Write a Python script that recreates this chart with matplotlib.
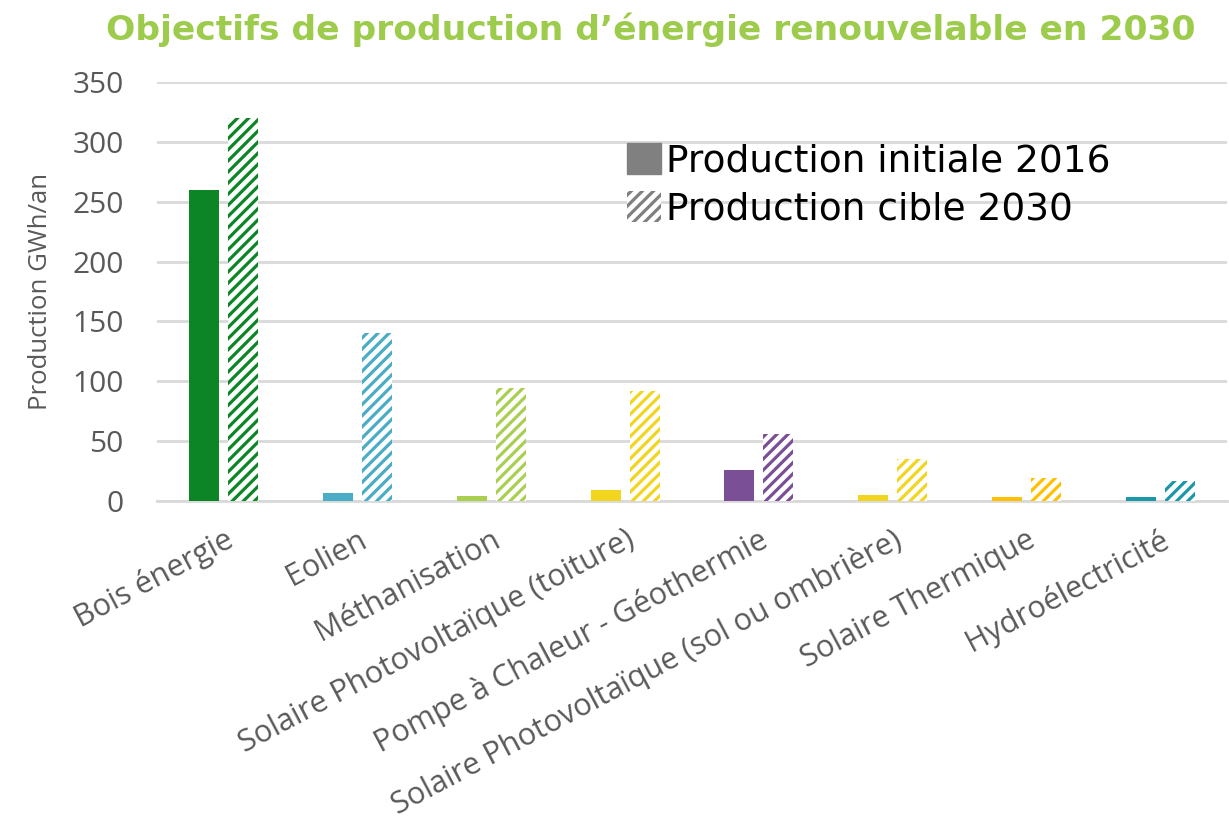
import matplotlib
matplotlib.use("Agg")
import matplotlib.pyplot as plt
import numpy as np
from matplotlib.patches import Patch

categories = ["Bois énergie", "Eolien", "Méthanisation", "Solaire Photovoltaïque (toiture)",
              "Pompe à Chaleur - Géothermie", "Solaire Photovoltaïque (sol ou ombrière)",
              "Solaire Thermique", "Hydroélectricité"]
initial_2016 = [260, 7, 4, 9, 26, 5, 3, 3]
cible_2030 = [320, 140, 94, 92, 56, 35, 19, 17]
colors = ["#0b8526", "#4bacc6", "#a9cf50", "#f2d51e", "#7a4f96", "#f2d51e", "#ffc000", "#1c97a8"]
yticks = [0, 50, 100, 150, 200, 250, 300, 350]

plt.rcParams['hatch.linewidth'] = 2.3

fig = plt.figure(figsize=(12.29, 8.26), dpi=100)
ax = fig.add_axes([157/1229, 1 - 501/826, (1227-157)/1229, (501-82)/826])

x = np.arange(len(categories))
w = 0.224
off = 0.146
ax.bar(x - off, initial_2016, width=w, color=colors, zorder=3)
for xi, v, c in zip(x, cible_2030, colors):
    ax.bar(xi + off, v, width=w, facecolor="white", edgecolor=c, hatch="///",
           linewidth=0, zorder=3)

ax.set_xlim(-0.5, len(categories) - 0.5)
ax.set_ylim(0, 350)
ax.set_yticks(yticks)
ax.yaxis.grid(True, color="#d9d9d9", linewidth=2, zorder=0)
for s in ["top", "right", "left"]:
    ax.spines[s].set_visible(False)
ax.spines["bottom"].set_color("#d9d9d9")
ax.spines["bottom"].set_linewidth(2)
ax.tick_params(axis="both", length=0, labelcolor="#595959")
ax.tick_params(axis="y", labelsize=21.5, pad=24)
ax.tick_params(axis="x", pad=17)
ax.set_xticks(x)
ax.set_xticklabels(categories, rotation=28, ha="right", rotation_mode="anchor",
                   fontsize=22, family="Open Sans")
for lbl in ax.get_yticklabels():
    lbl.set_family("Open Sans")
ax.set_ylabel("Production GWh/an", fontsize=18.5, color="#595959", family="Open Sans", labelpad=14)

handles = [Patch(facecolor="#808080", edgecolor="#808080"),
           Patch(facecolor="white", edgecolor="#808080", hatch="///", linewidth=0)]
ax.legend(handles, ["Production initiale 2016", "Production cible 2030"],
          loc="upper left", bbox_to_anchor=(0.425, 0.89), frameon=False, fontsize=27,
          handlelength=0.9, handleheight=0.9, handletextpad=0.15, labelspacing=0.3,
          labelcolor="#000000", borderaxespad=0)

fig.text(651/1229, 1 - 30/826, "Objectifs de production d’énergie renouvelable en 2030",
         ha="center", va="center", fontsize=24.8, fontweight="bold", color="#9dcb4c",
         family="DejaVu Sans")

fig.savefig("out.png", dpi=100)
